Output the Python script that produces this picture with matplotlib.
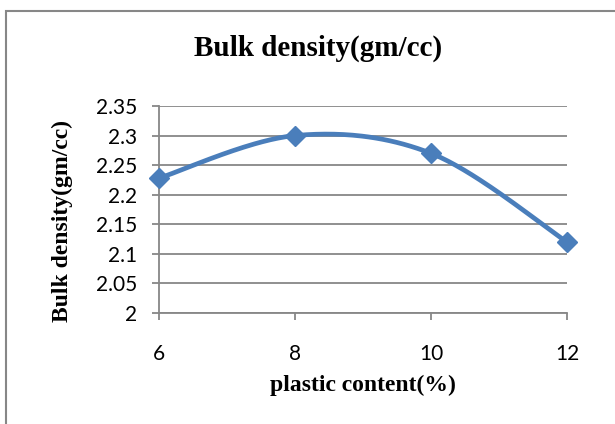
import numpy as np
import matplotlib
matplotlib.use("Agg")
import matplotlib.pyplot as plt
from matplotlib.patches import Rectangle

# Data
plastic_content = [6, 8, 10, 12]
bulk_density = [2.228, 2.30, 2.27, 2.12]
x_ticks = [6, 8, 10, 12]
y_ticks = [2.0, 2.05, 2.1, 2.15, 2.2, 2.25, 2.3, 2.35]
y_tick_labels = ["2", "2.05", "2.1", "2.15", "2.2", "2.25", "2.3", "2.35"]
title = "Bulk density(gm/cc)"
x_label = "plastic content(%)"
y_label = "Bulk density(gm/cc)"

W, H = 615, 424
DPI = 100
fig = plt.figure(figsize=(W / DPI, H / DPI), dpi=DPI)
fig.patch.set_facecolor("white")

ax_left, ax_right = 159 / W, 567 / W
ax_top, ax_bot = 1 - 106 / H, 1 - 313 / H
ax = fig.add_axes([ax_left, ax_bot, ax_right - ax_left, ax_top - ax_bot])

GRAY = "#878787"
BLUE = "#4a7ebb"

ax.set_xlim(6, 12)
ax.set_ylim(2.0, 2.35)
ax.set_xticks(x_ticks)
ax.set_xticklabels([str(v) for v in x_ticks])
ax.set_yticks(y_ticks)
ax.set_yticklabels(y_tick_labels)

for s in ["top", "right"]:
    ax.spines[s].set_visible(False)
for s in ["left", "bottom"]:
    ax.spines[s].set_color(GRAY)
    ax.spines[s].set_linewidth(1.3)

ax.yaxis.grid(True, color=GRAY, linewidth=1.3)
ax.set_axisbelow(True)
ax.tick_params(axis="both", direction="out", length=5, width=1.3, color=GRAY,
               labelsize=15, labelcolor="black")
ax.tick_params(axis="x", pad=17)
ax.tick_params(axis="y", pad=11)
for lbl in ax.get_xticklabels() + ax.get_yticklabels():
    lbl.set_family("Lato")

# Excel-like smoothed curve (Bezier with Catmull-Rom control points in pixel space)
fig.canvas.draw()
pts = ax.transData.transform(np.column_stack([plastic_content, bulk_density]))
n = len(pts)
curve = []
for i in range(n - 1):
    p0 = pts[max(i - 1, 0)]
    p1 = pts[i]
    p2 = pts[i + 1]
    p3 = pts[min(i + 2, n - 1)]
    c1 = p1 + (p2 - p0) / 6.0
    c2 = p2 - (p3 - p1) / 6.0
    t = np.linspace(0, 1, 60)[:, None]
    seg = ((1 - t) ** 3) * p1 + 3 * ((1 - t) ** 2) * t * c1 + 3 * (1 - t) * t ** 2 * c2 + t ** 3 * p2
    curve.append(seg if i == 0 else seg[1:])
curve = np.vstack(curve)
curve_data = ax.transData.inverted().transform(curve)
ax.plot(curve_data[:, 0], curve_data[:, 1], color=BLUE, linewidth=3.4,
        solid_capstyle="round", clip_on=False, zorder=3)
ax.plot(plastic_content, bulk_density, linestyle="none", marker="D", markersize=10,
        color=BLUE, markeredgecolor=BLUE, clip_on=False, zorder=4)

# Labels
fig.text(318 / W, 1 - 48 / H, title, ha="center", va="center",
         fontsize=21, fontweight="bold", family="Liberation Serif")
fig.text(363 / W, 1 - 385 / H, x_label, ha="center", va="center",
         fontsize=17, fontweight="bold", family="Liberation Serif")
fig.text(62 / W, 1 - 221 / H, y_label, ha="center", va="center", rotation=90,
         fontsize=17, fontweight="bold", family="Liberation Serif")

# Chart-area frame (left and top edges visible)
fig.add_artist(Rectangle((5.5 / W, -0.5), 2.0, 1.5 - 10.5 / H,
                         transform=fig.transFigure, fill=False,
                         edgecolor=GRAY, linewidth=1.5, clip_on=False))

fig.savefig("out.png", dpi=DPI, facecolor="white")
